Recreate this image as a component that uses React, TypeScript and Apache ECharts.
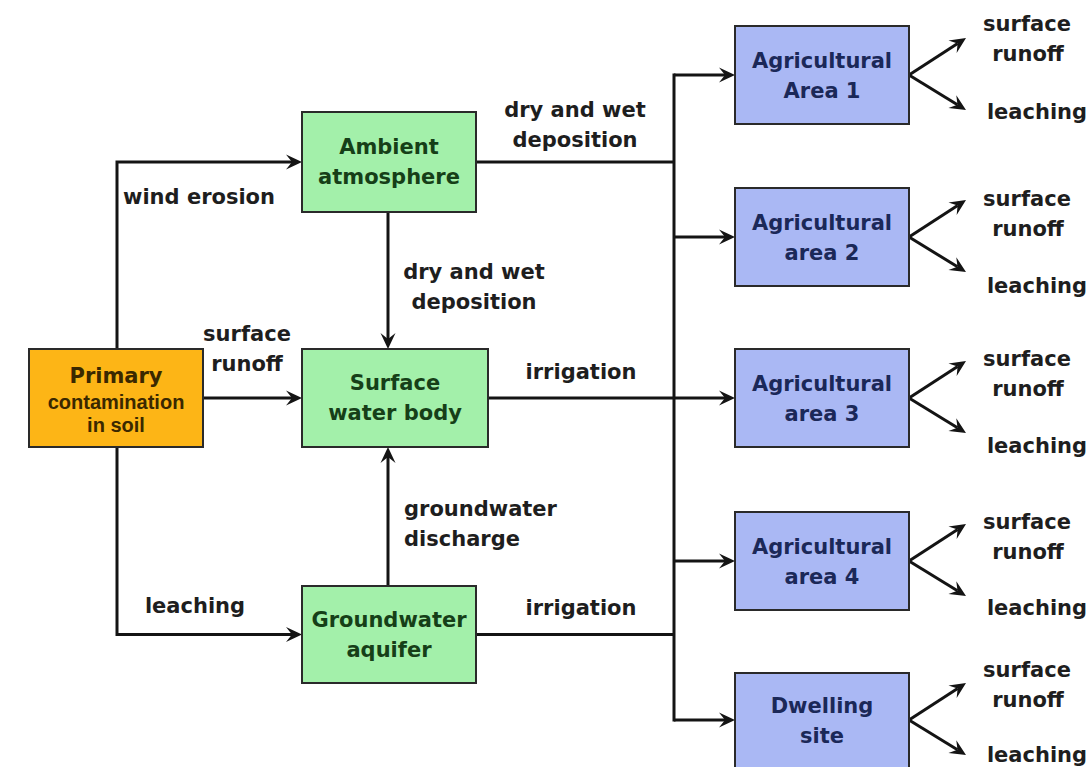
import React, { useEffect, useRef } from "react";
import * as echarts from "echarts";

// ---- Diagram content ----
const sourceNode = ["Primary", "contamination", "in soil"];
const mediaNodes = [
  ["Ambient", "atmosphere"],
  ["Surface", "water body"],
  ["Groundwater", "aquifer"],
];
const receptorNodes = [
  ["Agricultural", "Area 1"],
  ["Agricultural", "area 2"],
  ["Agricultural", "area 3"],
  ["Agricultural", "area 4"],
  ["Dwelling", "site"],
];
const pathwayLabels = [
  ["wind erosion"],
  ["surface", "runoff"],
  ["leaching"],
  ["dry and wet", "deposition"],
  ["groundwater", "discharge"],
  ["dry and wet", "deposition"],
  ["irrigation"],
  ["irrigation"],
];
const receptorOutputs = [["surface", "runoff"], ["leaching"]];

// ---- Layout (positions/sizes/styles) ----
const L = {
  source: { x: 29, y: 349, w: 174, h: 98 },
  media: [
    { x: 302, y: 112, w: 174, h: 100 },
    { x: 302, y: 349, w: 186, h: 98 },
    { x: 302, y: 586, w: 174, h: 97 },
  ],
  receptors: [
    { x: 735, y: 26, w: 174, h: 98, mid: 75, out: [24, 112] },
    { x: 735, y: 188, w: 174, h: 98, mid: 237, out: [199, 286] },
    { x: 735, y: 349, w: 174, h: 98, mid: 398, out: [359, 446] },
    { x: 735, y: 512, w: 174, h: 98, mid: 561, out: [522, 608] },
    { x: 735, y: 673, w: 174, h: 98, mid: 720, out: [670, 755] },
  ],
  trunkX: 674,
  leftX: 117,
  midX: 388,
  pathLabelPos: [
    { x: 123, y: 197, align: "left" },
    { x: 247, y: 334, align: "center" },
    { x: 195, y: 606, align: "center" },
    { x: 474, y: 272, align: "center" },
    { x: 404, y: 509, align: "left" },
    { x: 575, y: 110, align: "center" },
    { x: 581, y: 372, align: "center" },
    { x: 581, y: 608, align: "center" },
  ],
};

const FONT = "DejaVu Sans";
const FS = 21;
const LINE = "#141414";
const LW = 3;

function arrowHead(tx: number, ty: number, fx: number, fy: number) {
  const dx = tx - fx, dy = ty - fy;
  const len = Math.hypot(dx, dy);
  const ux = dx / len, uy = dy / len;
  const px = -uy, py = ux;
  const A = 16, W = 7.5, N = 10;
  const bx = tx - ux * A, by = ty - uy * A;
  const nx = tx - ux * N, ny = ty - uy * N;
  return {
    type: "polygon",
    shape: {
      points: [
        [tx, ty],
        [bx + px * W, by + py * W],
        [nx, ny],
        [bx - px * W, by - py * W],
      ],
    },
    style: { fill: LINE },
    z: 10,
  };
}

function line(points: number[][]) {
  return {
    type: "polyline",
    shape: { points },
    style: { stroke: LINE, lineWidth: LW, fill: null, lineJoin: "miter" },
    z: 5,
  };
}

function arrow(points: number[][]) {
  const n = points.length;
  const tip = points[n - 1];
  const prev = points[n - 2];
  const dx = tip[0] - prev[0], dy = tip[1] - prev[1];
  const len = Math.hypot(dx, dy);
  const end = [tip[0] - (dx / len) * 10, tip[1] - (dy / len) * 10];
  return [line([...points.slice(0, n - 1), end]), arrowHead(tip[0], tip[1], prev[0], prev[1])];
}

function text(
  str: string,
  x: number,
  y: number,
  opts: { size?: number; fill?: string; align?: string; family?: string; weight?: string } = {}
) {
  const align = opts.align || "center";
  return {
    type: "text",
    x,
    y,
    z: 20,
    style: {
      text: str,
      fill: opts.fill || "#1e1e1e",
      fontSize: opts.size || FS,
      fontWeight: opts.weight || "bold",
      fontFamily: opts.family || FONT,
      align,
      textAlign: align,
      verticalAlign: "middle",
      textVerticalAlign: "middle",
    },
  };
}

function box(b: { x: number; y: number; w: number; h: number }, fill: string) {
  return {
    type: "rect",
    shape: { x: b.x, y: b.y, width: b.w, height: b.h },
    style: { fill, stroke: "#2a2a2a", lineWidth: 2 },
    z: 15,
  };
}

export default function App() {
  const ref = useRef<HTMLDivElement>(null);
  useEffect(() => {
    document.body.style.margin = "0";
    const chart = echarts.init(ref.current!, null, { renderer: "svg" });
    const els: any[] = [];

    els.push({ type: "rect", shape: { x: 0, y: 0, width: 1091, height: 767 }, style: { fill: "#ffffff" }, z: 0 });

    const S = L.source;
    const [A, W, G] = L.media;
    const sMidY = S.y + S.h / 2;
    const aMidY = A.y + A.h / 2;
    const gMidY = G.y + G.h / 2;

    // source box
    els.push(box(S, "#FDB516"));
    els.push(text(sourceNode[0], S.x + S.w / 2, 376, { size: FS, fill: "#3a2800" }));
    els.push(text(sourceNode[1], S.x + S.w / 2, 402, { size: 20, fill: "#3a2800", family: "Liberation Sans" }));
    els.push(text(sourceNode[2], S.x + S.w / 2, 425, { size: 20, fill: "#3a2800", family: "Liberation Sans" }));

    // media boxes
    L.media.forEach((b, i) => {
      els.push(box(b, "#A3F0AA"));
      const cx = b.x + b.w / 2, cy = b.y + b.h / 2;
      els.push(text(mediaNodes[i][0], cx, cy - 15, { fill: "#163f18" }));
      els.push(text(mediaNodes[i][1], cx, cy + 15, { fill: "#163f18" }));
    });

    // receptor boxes
    L.receptors.forEach((b, i) => {
      els.push(box(b, "#AAB8F4"));
      const cx = b.x + b.w / 2;
      els.push(text(receptorNodes[i][0], cx, b.mid - 14, { fill: "#1b2858" }));
      els.push(text(receptorNodes[i][1], cx, b.mid + 16, { fill: "#1b2858" }));
      els.push(...arrow([[b.x + b.w, b.mid], [966, b.mid - 37]]));
      els.push(...arrow([[b.x + b.w, b.mid], [966, b.mid + 35]]));
      els.push(text(receptorOutputs[0][0], 1027, b.out[0]));
      els.push(text(receptorOutputs[0][1], 1028, b.out[0] + 30));
      els.push(text(receptorOutputs[1][0], 1037, b.out[1]));
      els.push(...arrow([[L.trunkX, b.mid], [b.x, b.mid]]));
    });

    // source -> media
    els.push(...arrow([[L.leftX, S.y], [L.leftX, aMidY], [A.x, aMidY]]));
    els.push(...arrow([[S.x + S.w, sMidY], [W.x, sMidY]]));
    els.push(...arrow([[L.leftX, S.y + S.h], [L.leftX, gMidY], [G.x, gMidY]]));

    // atmosphere -> surface water, groundwater -> surface water
    els.push(...arrow([[L.midX, A.y + A.h], [L.midX, W.y]]));
    els.push(...arrow([[L.midX, G.y], [L.midX, W.y + W.h]]));

    // media -> trunk
    els.push(line([[A.x + A.w, aMidY], [L.trunkX, aMidY]]));
    els.push(line([[W.x + W.w, sMidY], [L.trunkX, sMidY]]));
    els.push(line([[G.x + G.w, gMidY], [L.trunkX, gMidY]]));
    const rs = L.receptors;
    els.push(line([[L.trunkX, rs[0].mid - 1.5], [L.trunkX, rs[rs.length - 1].mid + 1.5]]));

    // pathway labels
    pathwayLabels.forEach((lines, i) => {
      const p = L.pathLabelPos[i];
      lines.forEach((s, j) => {
        els.push(text(s, p.x, p.y + j * 30, { align: p.align }));
      });
    });

    chart.setOption({ animation: false, graphic: { elements: els } });
    return () => chart.dispose();
  }, []);
  return <div ref={ref} style={{ width: 1091, height: 767 }} />;
}
